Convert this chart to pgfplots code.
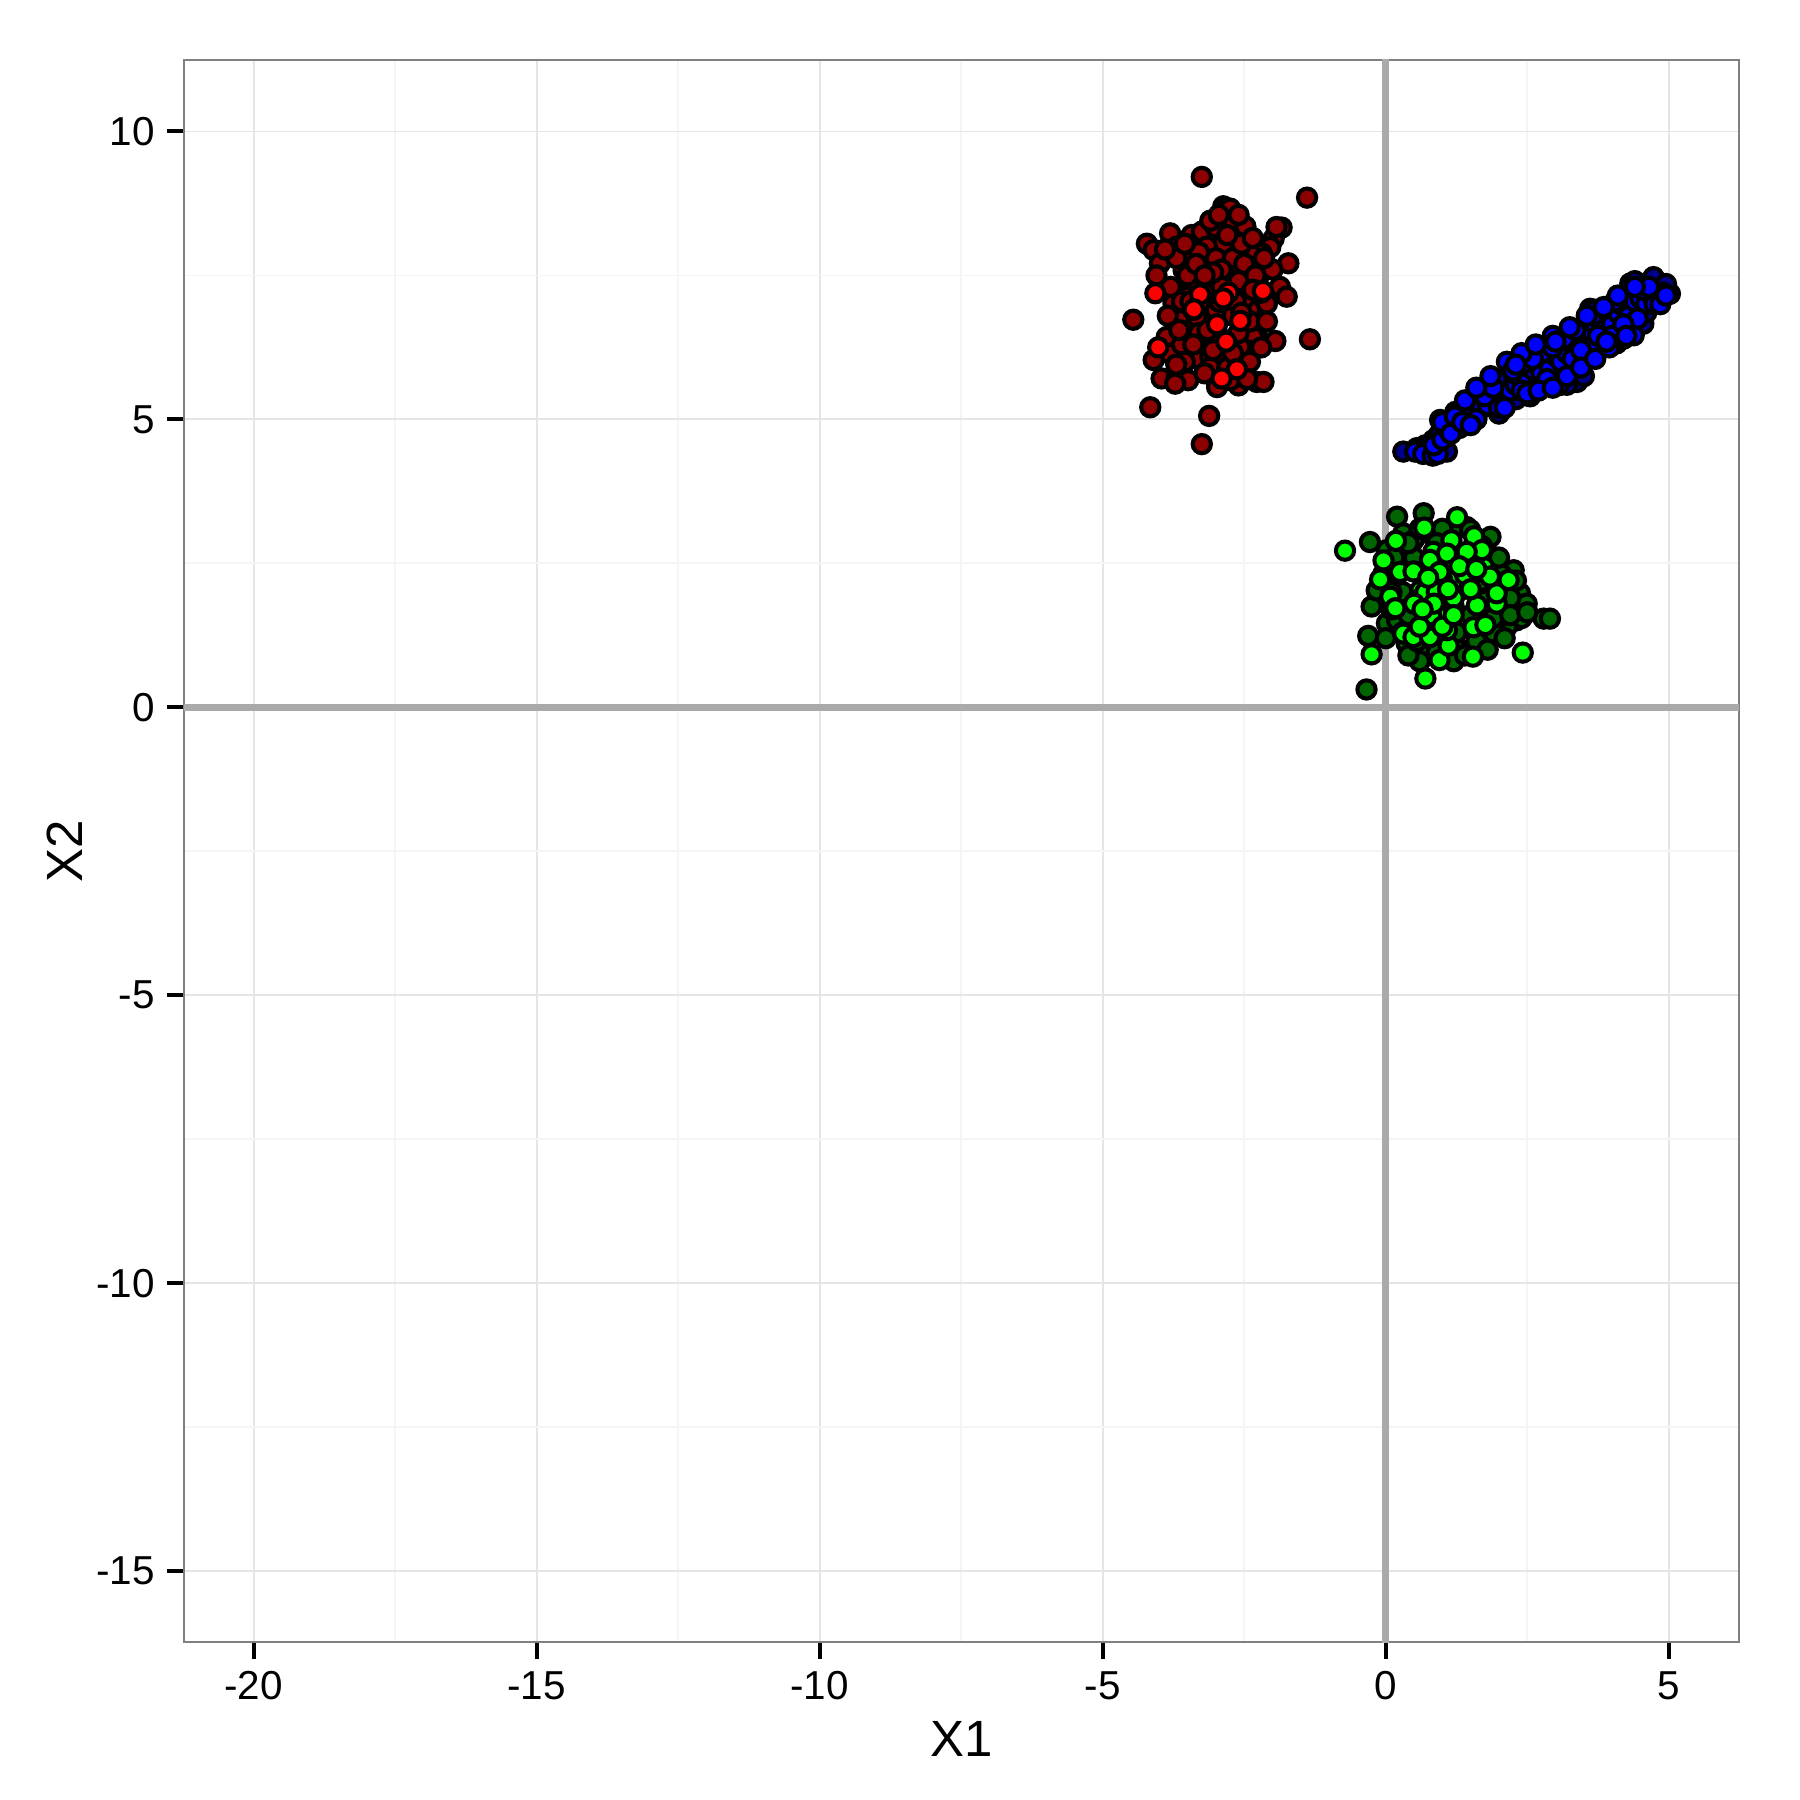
\documentclass[border=0pt]{standalone}
\usepackage{fontspec}
\setmainfont{Liberation Sans}
\usepackage{pgfplots}
\pgfplotsset{compat=1.18}
\usetikzlibrary{calc}
\definecolor{ptdarkred}{RGB}{139,0,0}
\definecolor{ptred}{RGB}{255,0,0}
\definecolor{ptdarkgreen}{RGB}{0,100,0}
\definecolor{ptgreen}{RGB}{0,255,0}
\definecolor{ptdarkblue}{RGB}{0,0,139}
\definecolor{ptblue}{RGB}{0,0,255}
\definecolor{zeroline}{RGB}{170,170,170}
\definecolor{gridmajor}{RGB}{229,229,229}
\definecolor{gridminor}{RGB}{245,245,245}

\begin{document}
\begin{tikzpicture}
\begin{axis}[
  scale only axis,
  width=15.55cm, height=15.82cm,
  xmin=-21.23, xmax=6.24,
  ymin=-16.23, ymax=11.24,
  xtick={-20,-15,...,5}, ytick={-15,-10,...,10},
  minor tick num=1,
  minor tick length=0pt,
  major tick length=0.17cm,
  tick align=outside,
  xtick pos=bottom, ytick pos=left,
  major tick style={black, line width=1.1pt},
  grid=both,
  major grid style={gridmajor, line width=0.5pt},
  minor grid style={gridminor, line width=0.5pt},
  axis line style={black!50, line width=0.8pt},
  /pgf/number format/assume math mode=true,
  ticklabel style={font=\fontsize{11.5}{13}\selectfont, black},
  xlabel={X1}, ylabel={X2},
  label style={font=\fontsize{14.5}{17}\selectfont},
  xlabel style={at={(axis description cs:0.5,-0.0613)}, anchor=center},
  ylabel style={at={(axis description cs:-0.0765,0.5)}, anchor=center},
  clip=true,
  scatterdot/.style={only marks, mark=*, mark size=2.6pt,
    mark options={draw=black, line width=1.15pt, fill=#1}},
]
% zero reference lines
\addplot[zeroline, line width=2pt] coordinates {(0,-17) (0,12)};
\addplot[zeroline, line width=2pt] coordinates {(-22,0) (7,0)};

% cluster 1: dark red
\addplot[scatterdot=ptdarkred] coordinates {
(-3.25,9.21) (-1.39,8.85) (-4.46,6.73) (-1.34,6.39) (-1.95,6.36) (-1.72,7.71)
(-1.84,8.33) (-4.16,5.21) (-3.12,5.06) (-3.25,4.57) (-2.87,8.70)
(-4.22,8.05) (-4.10,7.94) (-3.99,7.71) (-4.05,7.50) (-3.81,8.23) (-3.69,8.00)
(-3.43,8.20) (-3.25,8.26) (-3.01,8.34) (-2.87,8.63) (-2.75,8.66) (-2.69,8.43)
(-2.48,8.35) (-1.98,8.14) (-2.04,7.99) (-2.19,7.88) (-2.40,7.88) (-2.60,7.94)
(-2.87,8.05) (-3.16,8.00) (-3.43,7.76) (-3.57,7.59) (-3.34,7.53) (-3.10,7.65)
(-2.87,7.71) (-2.63,7.59) (-2.40,7.65) (-2.22,7.53) (-2.28,7.42) (-2.51,7.36)
(-2.75,7.42) (-2.98,7.42) (-3.22,7.36) (-3.46,7.30) (-3.69,7.13) (-3.75,7.01)
(-3.57,6.90) (-3.63,6.72) (-3.46,6.55) (-3.22,6.67) (-3.10,6.84) (-2.75,6.90)
(-2.40,6.90) (-2.10,7.01) (-1.87,7.30) (-1.75,7.13) (-2.28,6.55) (-2.34,6.43)
(-2.45,6.20) (-2.57,6.26) (-3.10,6.32) (-3.28,6.20) (-3.37,6.06) (-3.87,6.43)
(-3.81,6.14) (-4.10,6.03) (-3.96,5.71) (-3.69,5.74) (-3.49,5.68) (-3.72,5.62)
(-2.98,5.62) (-2.98,5.56) (-2.60,5.59) (-2.75,5.68) (-2.28,5.65) (-2.16,5.65)
(-3.10,6.09) (-2.87,6.09) (-3.16,7.07) (-3.34,6.78) (-3.51,7.13) (-1.93,8.34)
(-3.00,7.80) (-2.70,7.80) (-2.50,7.70) (-3.30,7.90) (-2.90,7.60) (-2.60,7.40)
(-3.20,7.20) (-2.90,7.30) (-2.50,7.10) (-3.40,6.90) (-3.00,6.90) (-2.70,6.80)
(-2.40,6.70) (-3.30,6.50) (-2.90,6.40) (-2.60,6.50) (-3.50,7.50) (-3.70,7.80)
(-2.30,7.50) (-2.20,7.20) (-3.60,6.30) (-3.10,5.90) (-2.50,5.90)
(-3.05,7.55) (-2.80,7.15) (-3.15,6.55) (-2.65,7.05) (-3.35,7.70) (-2.55,8.05)
(-3.80,7.30) (-3.60,7.05) (-3.85,6.80) (-3.65,6.55) (-3.40,6.30) (-3.55,6.00)
(-3.20,5.80) (-2.80,5.90) (-2.40,6.00) (-2.20,6.25) (-2.10,6.70) (-2.00,7.60)
(-2.15,7.80) (-2.35,8.15) (-2.80,8.20) (-3.10,8.45) (-3.55,8.05) (-3.90,7.95)
(-3.20,7.50) (-2.95,7.05) (-2.55,6.85) (-3.05,6.20) (-2.70,6.15) (-2.35,7.25)
(-3.45,7.05) (-3.70,5.95) (-2.45,5.70) (-2.60,8.55) (-2.95,8.55)
};
% cluster 1: red
\addplot[scatterdot=ptred] coordinates {
(-4.07,7.19) (-3.28,7.17) (-3.39,6.91) (-2.93,7.04) (-2.78,7.20) (-2.98,6.65)
(-2.57,6.71) (-2.17,7.23) (-2.82,6.35) (-4.02,6.25) (-2.63,5.87) (-2.90,5.71)
(-2.87,7.10)
};

% cluster 2: dark green
\addplot[scatterdot=ptdarkgreen] coordinates {
(0.20,3.31) (0.67,3.37) (-0.28,2.87) (1.43,3.13) (1.85,2.96) (2.26,2.38)
(2.37,1.98) (2.31,1.51) (2.79,1.54) (2.90,1.54) (2.14,1.40) (-0.25,1.75)
(-0.31,1.24) (-0.34,0.31) (0.02,1.46) (0.37,1.11) (0.61,0.94) (1.31,0.99)
(1.67,1.17) (2.02,1.57) (1.90,2.61) (0.31,3.02) (0.02,2.73) (-0.16,2.03)
(0.49,2.90) (0.84,2.96) (1.20,3.08) (2.14,2.03) (2.26,1.75) (1.79,1.22)
(1.08,0.99) (0.20,1.51) (-0.04,2.32) (2.49,1.80) (1.49,3.08)
(0.50,2.60) (0.90,2.40) (1.30,2.60) (1.70,2.20) (2.00,1.70) (1.50,1.00)
(0.90,1.20) (0.40,1.60) (0.30,2.00) (0.70,1.90) (1.10,1.80) (1.50,1.60)
(1.90,1.30) (2.20,1.90) (0.60,0.80) (1.20,0.80) (0.00,1.20) (0.10,2.00)
(0.40,0.90) (1.70,2.80) (0.60,3.10) (1.00,3.10) (0.15,2.60) (2.05,2.30)
(1.60,1.15) (1.90,1.55) (2.10,1.20) (2.40,1.55) (2.20,1.60) (1.80,1.00)
(1.40,0.90) (0.90,0.95) (0.30,1.30) (0.10,1.70) (0.20,2.30) (0.40,2.85)
(0.90,2.85) (1.60,2.55) (2.00,2.60) (2.30,2.20) (2.50,1.65) (1.75,1.85)
(0.55,1.15) (1.25,1.30)
};
% cluster 2: green
\addplot[scatterdot=ptgreen] coordinates {
(-0.72,2.72) (0.68,3.12) (1.26,3.30) (0.18,2.89) (1.56,2.97) (1.16,2.90)
(-0.04,2.55) (0.25,2.35) (0.49,2.36) (-0.10,2.22) (0.08,1.92) (0.17,1.72)
(-0.25,0.92) (0.70,0.50) (0.95,0.82) (1.11,1.07) (1.54,0.88) (2.42,0.95)
(1.55,1.39) (1.76,1.43) (1.61,1.77) (1.96,1.80) (1.96,1.98) (2.17,2.21)
(1.73,2.44) (1.70,2.73) (1.43,2.70) (0.84,2.70) (0.31,1.28) (0.49,1.22)
(0.78,1.22) (1.08,1.34) (0.61,2.03) (0.78,1.75) (0.96,1.57) (1.20,1.75)
(1.31,2.03) (1.08,2.44) (1.31,2.38) (0.96,2.15) (0.55,1.86) (0.73,1.51)
(0.90,1.92) (1.20,2.21) (1.49,2.27) (1.84,2.27) (1.08,2.67) (0.78,2.56)
(0.70,2.00) (0.80,1.60) (1.00,2.20) (1.20,1.90) (1.00,1.40) (0.60,1.40)
(0.50,1.80) (1.40,2.30) (0.90,2.00) (1.20,1.60)
(1.10,2.05) (0.85,1.80) (1.30,2.45) (0.65,1.70) (0.95,2.35) (1.50,2.05)
(1.60,2.40) (0.75,2.25)
};

% cluster 3: dark blue
\addplot[scatterdot=ptdarkblue] coordinates {
(0.84,4.64) (0.96,4.99) (1.23,5.13) (0.31,4.44) (3.38,5.65) (4.08,6.32)
(3.61,6.92) (4.73,7.47) (5.02,7.18) (4.55,6.66) (4.32,7.36) (1.08,4.44)
(0.70,4.55) (2.80,5.90) (1.60,5.05) (3.90,6.60) (2.30,5.35) (3.00,5.85)
(0.55,4.50) (0.95,4.75) (3.50,5.75) (4.20,6.40) (4.60,6.85) (2.00,5.10)
(1.30,4.85) (3.20,5.60) (2.55,5.40) (4.40,7.40) (3.70,6.90) (4.95,7.35)
};
% cluster 3: blue
\addplot[scatterdot=ptblue] coordinates {
(0.52,4.44) (0.66,4.40) (0.83,4.37) (0.92,4.40) (0.85,4.55) (1.00,4.65)
(1.08,4.85) (1.20,4.90) (1.30,5.10) (1.45,5.08) (1.55,5.15) (1.62,5.28)
(1.70,5.20) (1.80,5.25) (1.85,5.45) (1.95,5.35) (2.05,5.40) (2.10,5.55)
(2.15,5.70) (2.20,5.50) (2.30,5.60) (2.35,5.75) (2.45,5.78) (2.50,5.65)
(2.55,5.90) (2.62,5.85) (2.70,5.95) (2.75,5.80) (2.85,6.05) (2.90,5.90)
(3.00,6.10) (3.05,6.25) (3.10,6.00) (3.20,6.15) (3.25,6.35) (3.35,6.30)
(3.40,6.45) (3.50,6.40) (3.55,6.55) (3.65,6.50) (3.70,6.65) (3.80,6.70)
(3.85,6.55) (3.95,6.80) (4.00,6.65) (4.10,6.85) (4.15,7.00) (4.25,6.95)
(4.30,6.80) (4.40,7.05) (4.50,7.10) (4.60,7.00) (4.70,7.15) (4.80,7.15)
(4.90,7.20) (4.38,6.46) (2.14,6.00) (1.95,5.70) (2.40,5.95) (2.75,6.15)
(3.05,5.59) (2.65,5.55) (1.40,5.33) (1.00,4.95) (1.22,5.05) (2.00,5.20)
(3.30,6.05) (3.60,6.25) (4.00,6.45) (4.45,6.75) (4.55,7.25)
(1.15,4.75) (1.35,4.95) (1.60,5.00) (1.75,5.40) (2.25,5.85) (2.60,6.05)
(2.95,6.25) (3.15,6.40) (3.45,6.20) (3.75,6.45) (4.05,7.05) (4.20,6.65)
(4.65,7.30) (2.85,5.70) (3.35,6.55) (2.40,5.50) (1.90,5.55) (4.75,7.00)
(2.50,5.45) (2.70,5.50) (2.95,5.55) (3.20,5.75) (3.45,5.90) (3.70,6.05)
(3.95,6.25) (4.25,6.45) (2.40,6.15) (2.65,6.30) (2.95,6.45) (3.25,6.60)
(3.55,6.80) (3.85,6.95) (4.10,7.15) (4.40,7.30) (1.60,5.55) (1.85,5.75)
(2.10,5.20) (1.50,4.90) (3.90,6.35) (3.00,6.35) (2.30,5.95) (4.85,7.00)
(4.95,7.15)
};
\end{axis}
\path ($(current axis.south west)+(-1.84cm,-1.58cm)$) rectangle ($(current axis.north east)+(0.61cm,0.60cm)$);
\end{tikzpicture}
\end{document}
